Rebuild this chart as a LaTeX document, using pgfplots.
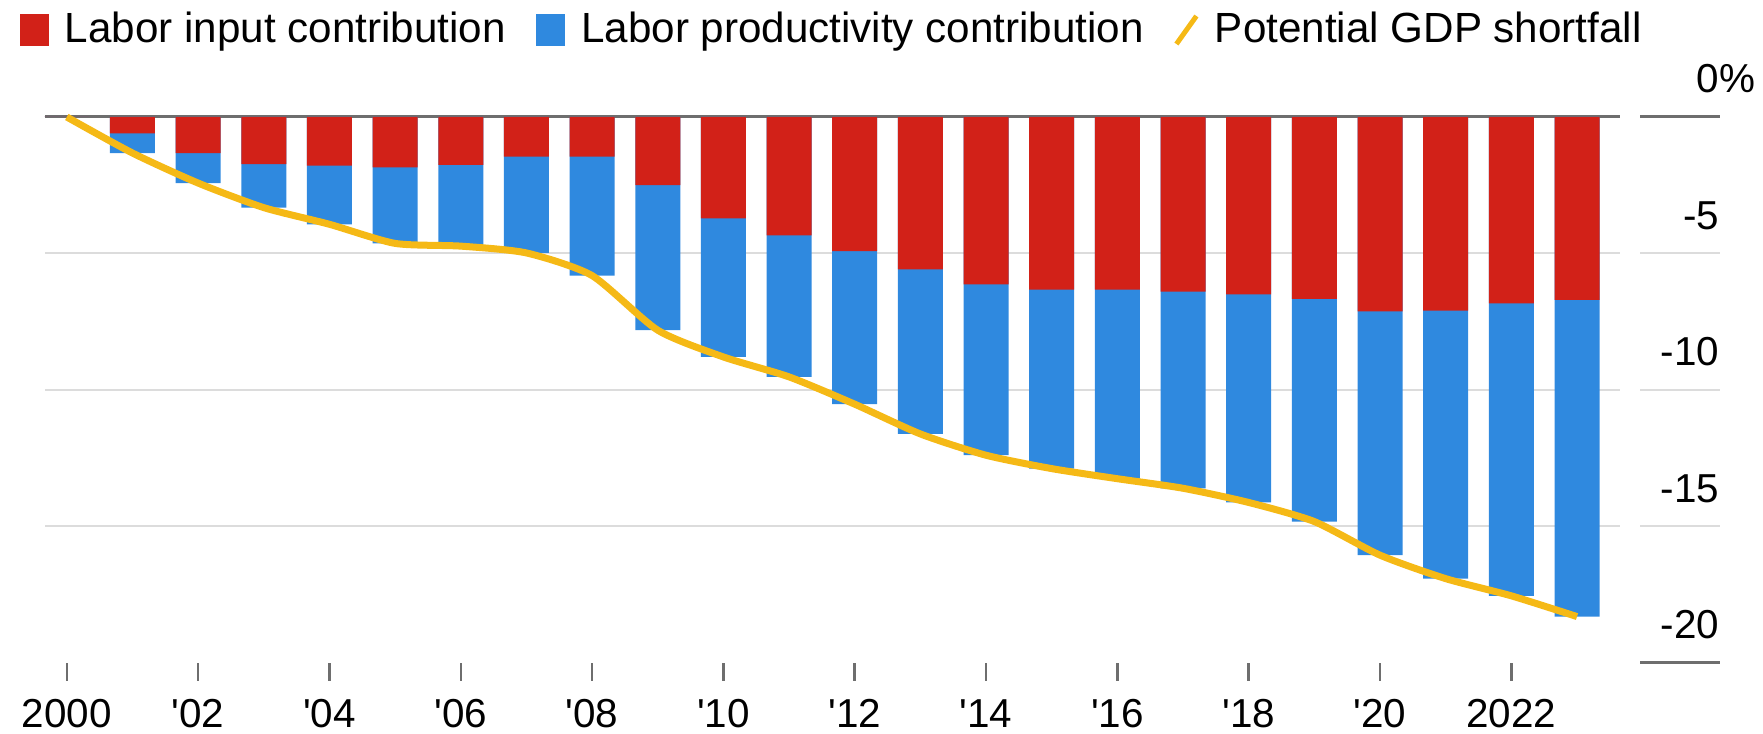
\documentclass[border=0pt]{standalone}
\usepackage{fontspec}
\setmainfont{Liberation Sans}
\usepackage{pgfplots}
\pgfplotsset{compat=1.18}
\usepackage{pgfplotstable}

\definecolor{inputred}{HTML}{D22118}
\definecolor{prodblue}{HTML}{2F89DF}
\definecolor{gdpyellow}{HTML}{F5B916}
\definecolor{gridgray}{HTML}{DCDCDC}
\definecolor{zerogray}{HTML}{6E6E6E}

% contributions to the potential GDP shortfall, percent
\pgfplotstableread{
year input prod
2000  0.00   0.00
2001 -0.60  -0.72
2002 -1.32  -1.10
2003 -1.73  -1.59
2004 -1.78  -2.15
2005 -1.85  -2.78
2006 -1.75  -2.98
2007 -1.45  -3.53
2008 -1.45  -4.36
2009 -2.50  -5.31
2010 -3.71  -5.08
2011 -4.34  -5.18
2012 -4.91  -5.61
2013 -5.58  -6.03
2014 -6.13  -6.26
2015 -6.32  -6.56
2016 -6.32  -6.93
2017 -6.40  -7.20
2018 -6.50  -7.62
2019 -6.66  -8.16
2020 -7.12  -8.93
2021 -7.09  -9.82
2022 -6.83 -10.71
2023 -6.70 -11.60
}\shortfall

\begin{document}
\begin{tikzpicture}
\path[use as bounding box] (0,0) rectangle (176.3mm,73.4mm);
\begin{axis}[
    at={(4.5mm,7.1mm)}, anchor=south west,
    scale only axis, width=157.5mm, height=54.6mm,
    xmin=1999.668, xmax=2023.655,
    ymin=-20, ymax=0,
    clip=false,
    axis line style={draw=none},
    tick align=outside,
    major tick length=1.8mm,
    xtick={2000,2002,...,2022},
    xticklabels={2000,\textquotesingle02,\textquotesingle04,\textquotesingle06,\textquotesingle08,\textquotesingle10,\textquotesingle12,\textquotesingle14,\textquotesingle16,\textquotesingle18,\textquotesingle20,2022},
    xtick pos=bottom,
    xtick style={draw=zerogray, line width=0.25mm},
    ytick={-20,-15,-10,-5,0},
    yticklabels={-20,-15,-10,-5,0\rlap{\%}},
    ytick pos=right,
    yticklabel pos=right,
    ytick style={draw=none},
    ticklabel style={font=\fontsize{11.5}{13}\selectfont, text=black},
    xticklabel style={anchor=base, inner sep=0pt, text depth=0pt, yshift=-4.7mm},
    yticklabel style={anchor=base east, inner sep=0pt, xshift=8.2mm, yshift=2.4mm},
    legend columns=3,
    legend cell align=left,
    legend style={at={(-0.0166,1.1593)}, anchor=west, draw=none, fill=none,
        inner sep=0pt, font=\fontsize{12}{14}\selectfont,
        /tikz/every odd column/.append style={column sep=0.9mm},
        /tikz/every even column/.append style={column sep=2.3mm}},
]
% grid lines and the short marks beside the labels
\draw[gridgray, line width=0.2mm] (axis cs:1999.668,-5) -- (axis cs:2023.655,-5);
\draw[gridgray, line width=0.2mm] (axis cs:1999.668,-10) -- (axis cs:2023.655,-10);
\draw[gridgray, line width=0.2mm] (axis cs:1999.668,-15) -- (axis cs:2023.655,-15);
\draw[gridgray, line width=0.2mm] (axis cs:2023.96,-5) -- (axis cs:2025.18,-5);
\draw[gridgray, line width=0.2mm] (axis cs:2023.96,-10) -- (axis cs:2025.18,-10);
\draw[gridgray, line width=0.2mm] (axis cs:2023.96,-15) -- (axis cs:2025.18,-15);
\draw[zerogray, line width=0.3mm] (axis cs:1999.668,0) -- (axis cs:2023.655,0);
\draw[zerogray, line width=0.3mm] (axis cs:2023.96,0) -- (axis cs:2025.18,0);
\draw[zerogray, line width=0.3mm] (axis cs:2023.96,-20) -- (axis cs:2025.18,-20);

% blue bar runs to the total, red input bar is laid over its top part
\addplot[ybar, bar width=4.5mm, bar shift=0pt, fill=prodblue, draw=none, forget plot]
    table[x=year, y expr=\thisrow{input}+\thisrow{prod}] {\shortfall};
\addplot[ybar, bar width=4.5mm, bar shift=0pt, fill=inputred, draw=none, forget plot]
    table[x=year, y=input] {\shortfall};
\addplot[gdpyellow, line width=0.7mm, smooth, tension=0.4, forget plot]
    table[x=year, y expr=\thisrow{input}+\thisrow{prod}] {\shortfall};

\addlegendimage{legend image code/.code={\fill[inputred] (0mm,-1.5mm) rectangle (2.8mm,1.5mm);}}
\addlegendentry{Labor input contribution}
\addlegendimage{legend image code/.code={\fill[prodblue] (0mm,-1.5mm) rectangle (2.8mm,1.5mm);}}
\addlegendentry{Labor productivity contribution}
\addlegendimage{legend image code/.code={\draw[gdpyellow, line width=0.5mm] (0mm,-1.4mm) -- (2.0mm,1.4mm);}}
\addlegendentry{Potential GDP shortfall}
\end{axis}
\end{tikzpicture}
\end{document}
